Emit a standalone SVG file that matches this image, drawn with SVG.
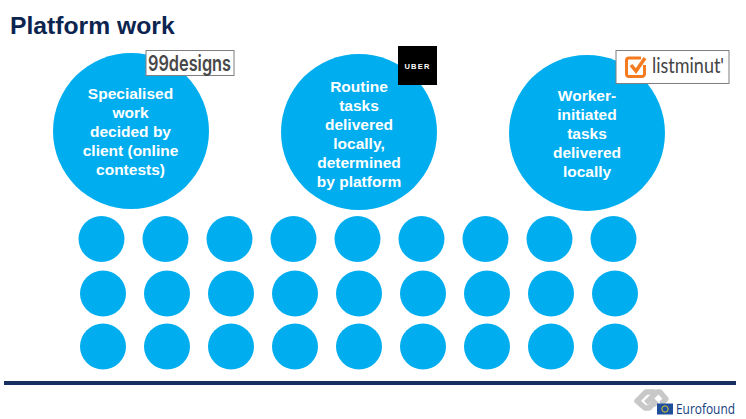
<svg xmlns="http://www.w3.org/2000/svg" width="746" height="419" viewBox="0 0 746 419">
<style>
text{font-family:"Liberation Sans",Arial,sans-serif}
.c{fill:#00aeef}
.l{font-size:15.500px;font-weight:700;fill:#fff;text-anchor:middle}
.logo{fill:#fff;stroke:#7f7f7f;stroke-width:1}
.link{fill:none;stroke:#c8c8c8;stroke-width:5.500;stroke-linejoin:round}
</style>
<rect width="746" height="419" fill="#fff"/>
<text x="10" y="33.500" font-size="24.700" font-weight="700" fill="#0c2550">Platform work</text>
<g id="node-specialised">
<circle class="c" cx="131" cy="131" r="78"/>
<text class="l" x="130.500" y="99">Specialised</text>
<text class="l" x="130.500" y="118">work</text>
<text class="l" x="130.500" y="137">decided by</text>
<text class="l" x="130.500" y="156">client (online</text>
<text class="l" x="130.500" y="175">contests)</text>
</g>
<g id="node-routine">
<circle class="c" cx="359" cy="132" r="78"/>
<text class="l" x="359" y="92">Routine</text>
<text class="l" x="359" y="111">tasks</text>
<text class="l" x="359" y="130">delivered</text>
<text class="l" x="359" y="149">locally,</text>
<text class="l" x="359" y="168">determined</text>
<text class="l" x="359" y="187">by platform</text>
</g>
<g id="node-worker">
<circle class="c" cx="587" cy="133" r="78"/>
<text class="l" x="587" y="101">Worker-</text>
<text class="l" x="587" y="120">initiated</text>
<text class="l" x="587" y="139">tasks</text>
<text class="l" x="587" y="158">delivered</text>
<text class="l" x="587" y="177">locally</text>
</g>
<g id="logo-99designs">
<rect class="logo" x="146" y="50.500" width="88" height="25"/>
<text x="148" y="70.500" style="font-family:Inter,'Liberation Sans',sans-serif" font-size="22" font-weight="600" fill="#484848" textLength="83" lengthAdjust="spacingAndGlyphs">99designs</text>
</g>
<g id="logo-uber">
<rect x="398" y="46" width="39" height="39" fill="#000"/>
<text x="417.500" y="68.500" font-size="7.500" font-weight="700" fill="#fff" text-anchor="middle" letter-spacing="1.200">UBER</text>
</g>
<g id="logo-listminut">
<rect class="logo" x="616" y="50.500" width="113" height="33"/>
<path d="M641 58h-12a2.500 2.500 0 0 0-2.500 2.500v13.500a2.500 2.500 0 0 0 2.500 2.500h13a2.500 2.500 0 0 0 2.500-2.500v-9" fill="none" stroke="#f47b20" stroke-width="3"/>
<path d="M631 65l5 6 9-13" fill="none" stroke="#f47b20" stroke-width="3.500"/>
<text x="652" y="73" style="font-family:Lato,'Liberation Sans',sans-serif" font-size="21" fill="#444" textLength="72" lengthAdjust="spacingAndGlyphs">listminut'</text>
</g>
<g id="dots">
<g class="c">
<circle cx="101.500" cy="239" r="23"/><circle cx="165.500" cy="239" r="23"/><circle cx="229.500" cy="239" r="23"/><circle cx="293.500" cy="239" r="23"/><circle cx="357.500" cy="239" r="23"/><circle cx="421.500" cy="239" r="23"/><circle cx="485.500" cy="239" r="23"/><circle cx="549.500" cy="239" r="23"/><circle cx="613.500" cy="239" r="23"/>
<circle cx="103" cy="293.500" r="23"/><circle cx="167" cy="293.500" r="23"/><circle cx="231" cy="293.500" r="23"/><circle cx="295" cy="293.500" r="23"/><circle cx="359" cy="293.500" r="23"/><circle cx="423" cy="293.500" r="23"/><circle cx="487" cy="293.500" r="23"/><circle cx="551" cy="293.500" r="23"/><circle cx="615" cy="293.500" r="23"/>
<circle cx="103" cy="346.500" r="23"/><circle cx="167" cy="346.500" r="23"/><circle cx="231" cy="346.500" r="23"/><circle cx="295" cy="346.500" r="23"/><circle cx="359" cy="346.500" r="23"/><circle cx="423" cy="346.500" r="23"/><circle cx="487" cy="346.500" r="23"/><circle cx="551" cy="346.500" r="23"/><circle cx="615" cy="346.500" r="23"/>
</g>
</g>
<rect x="4" y="381" width="732" height="4" fill="#16305f"/>
<g id="logo-eurofound">
<path class="link" d="M655 392h-9l-9 9 8 7h4l5-5"/>
<path class="link" d="M646 403l8-8 3-3h3l6 7-5 5"/>
<path class="link" d="M650 398l7 7"/>
<rect x="657" y="403.500" width="16" height="11" fill="#1f4e9c"/>
<circle cx="665" cy="409" r="3.200" fill="none" stroke="#d8c830" stroke-width="1"/>
<text x="676" y="414" style="font-family:'Open Sans','Liberation Sans',sans-serif" font-size="14" fill="#16407f" textLength="59" lengthAdjust="spacingAndGlyphs">Eurofound</text>
</g>
</svg>
